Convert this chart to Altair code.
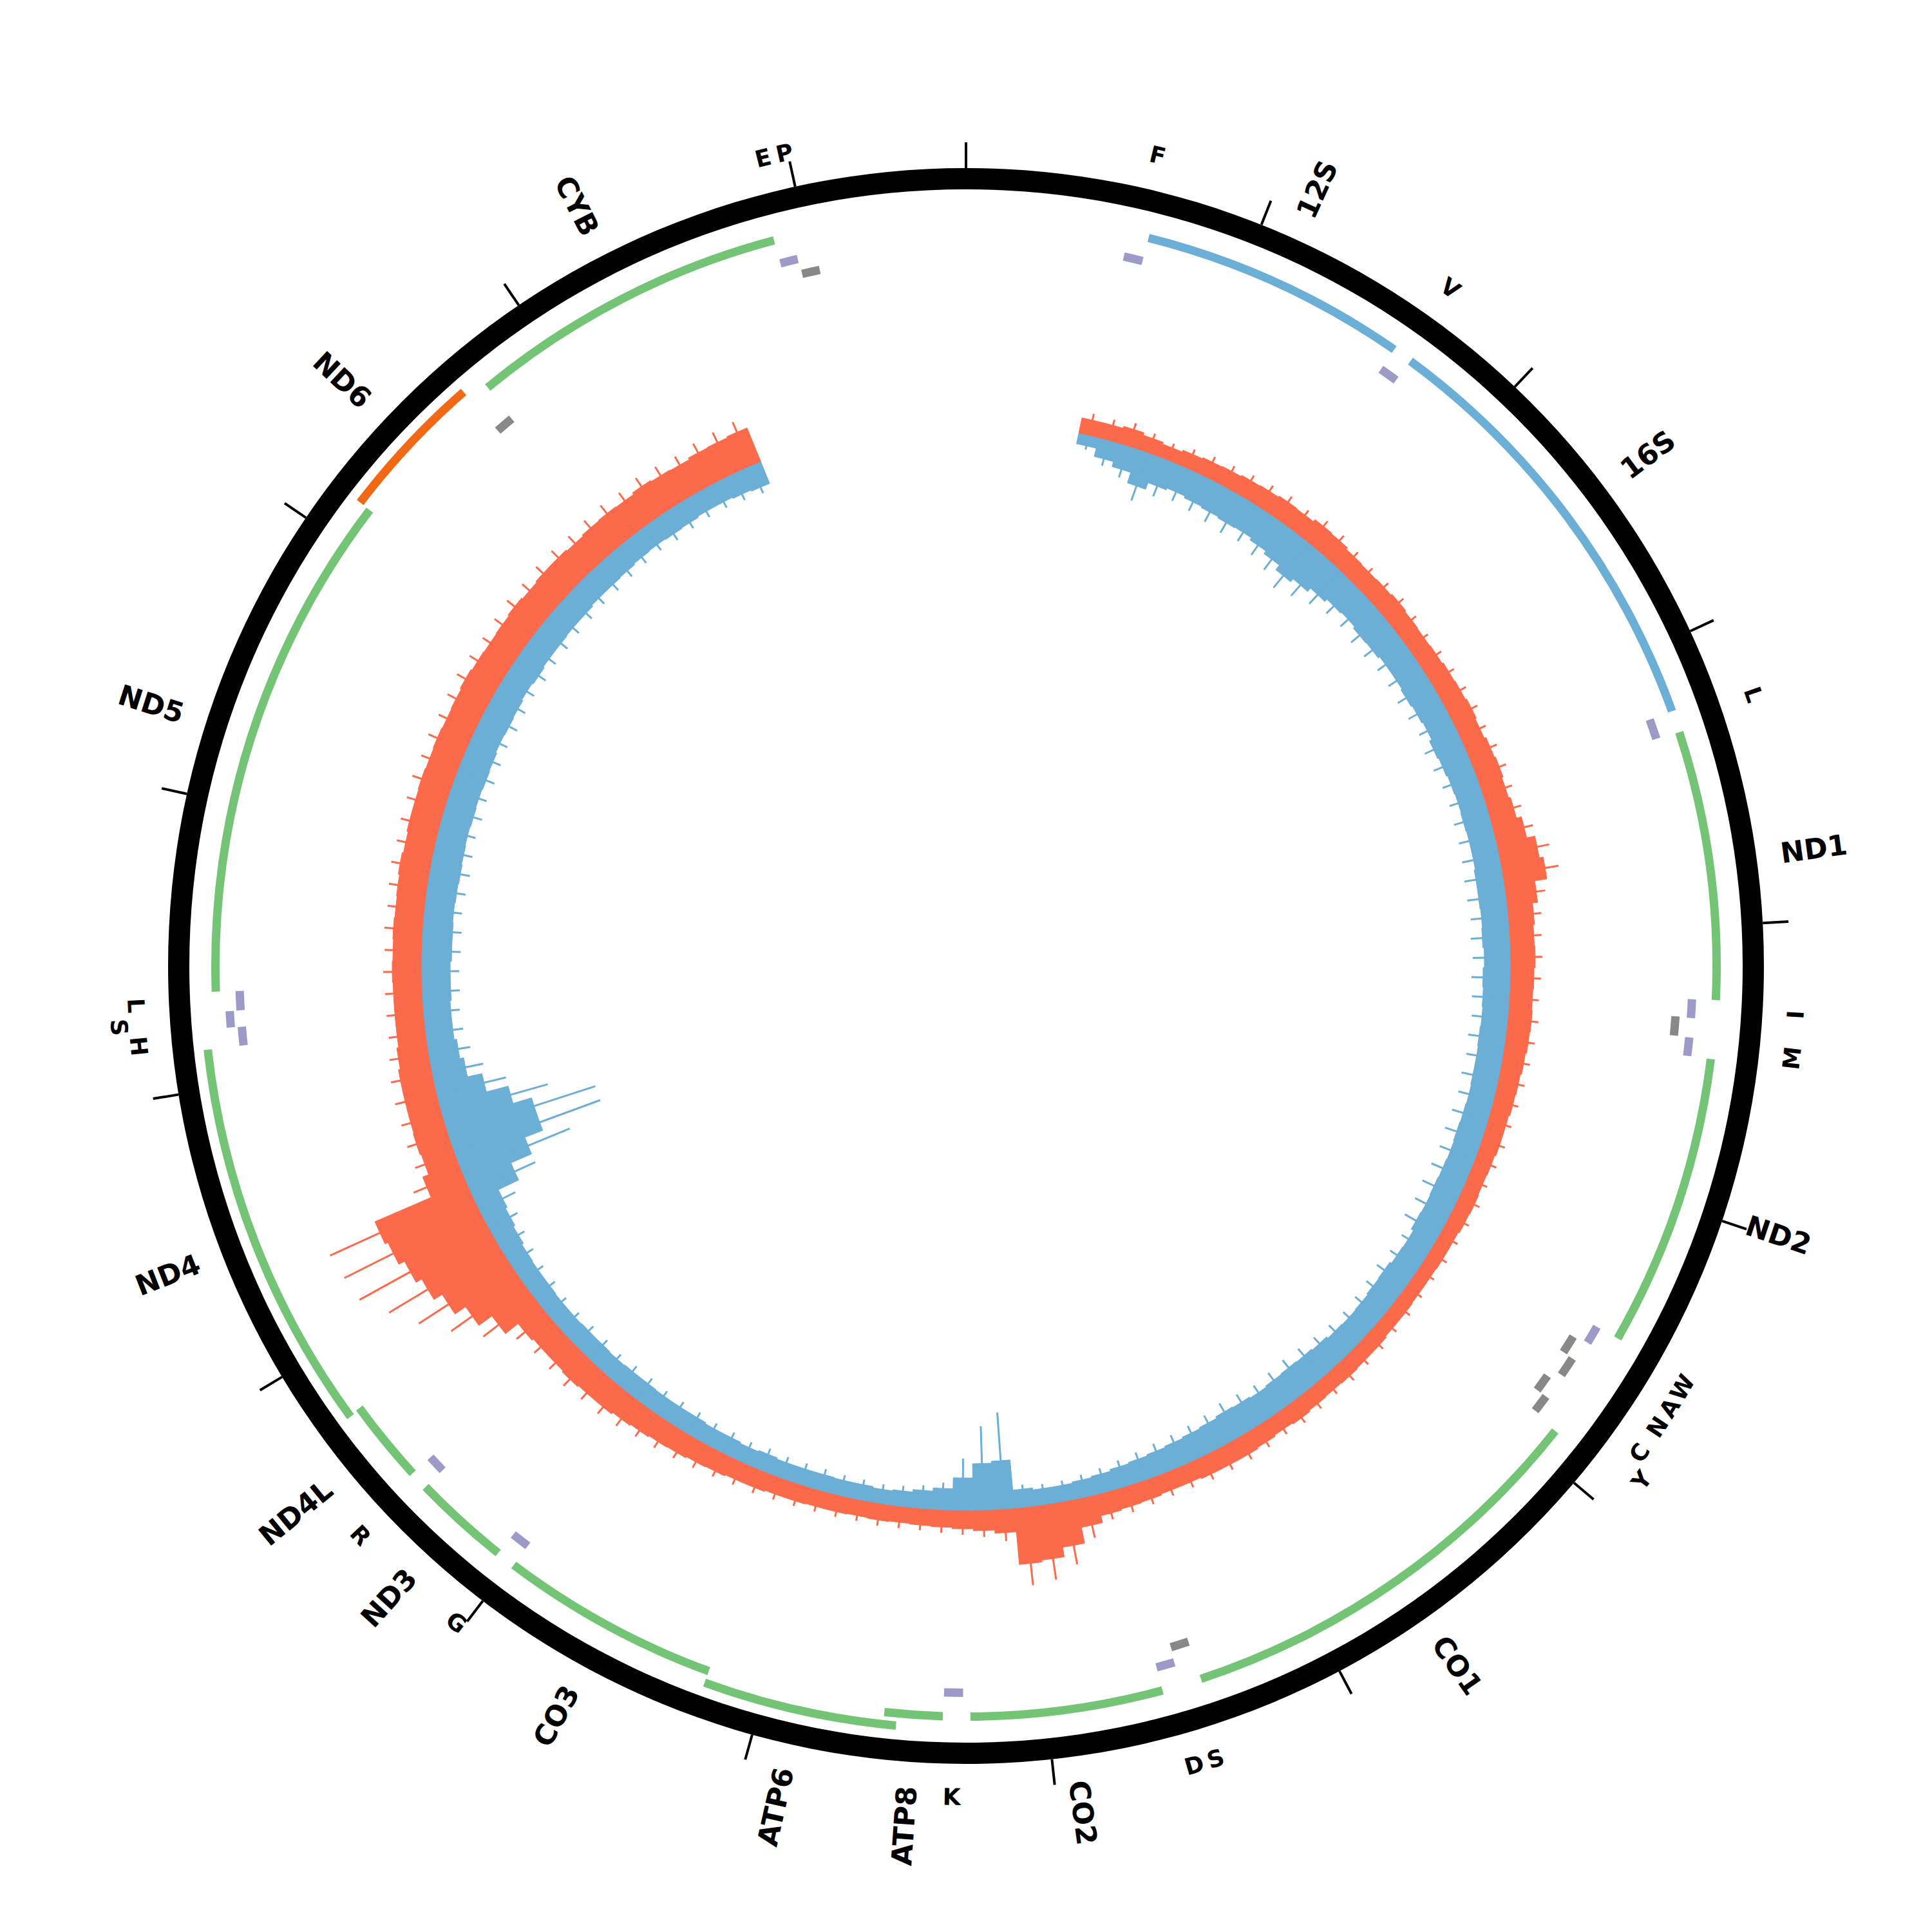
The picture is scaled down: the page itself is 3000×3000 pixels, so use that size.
import math
import altair as alt
import pandas as pd

GENOME = 16569
TICKS = [0, 1000, 2000, 3000, 4000, 5000, 6000, 7000, 8000, 9000, 10000,
         11000, 12000, 13000, 14000, 15000, 16000]

# genes: name, start, end, kind, lane
GENE_NAME = ["12S", "16S", "ND1", "ND2", "CO1", "CO2", "ATP8", "ATP6", "CO3",
             "ND3", "ND4L", "ND4", "ND5", "ND6", "CYB"]
GENE_START = [648, 1671, 3307, 4470, 5904, 7586, 8366, 8527, 9207,
              10059, 10470, 10760, 12337, 14149, 14747]
GENE_END = [1601, 3229, 4262, 5511, 7445, 8269, 8572, 9207, 9990,
            10404, 10766, 12137, 14148, 14673, 15887]
GENE_KIND = ["rRNA", "rRNA", "cds", "cds", "cds", "cds", "cds", "cds", "cds",
             "cds", "cds", "cds", "cds", "cds_L", "cds"]
GENE_LANE = [1, 1, 1, 1, 1, 1, 1, 2, 1, 1, 1, 2, 1, 2, 1]

# tRNAs: name, start, end, strand, lane
TRNA_NAME = ["F", "V", "L1", "I", "Q", "M", "W", "A", "N", "C", "Y", "S1",
             "D", "K", "G", "R", "H", "S2", "L2", "E", "T", "P"]
TRNA_START = [577, 1602, 3230, 4263, 4329, 4402, 5512, 5587, 5657, 5761, 5826,
              7446, 7518, 8295, 9991, 10405, 12138, 12207, 12266, 14674, 15888, 15956]
TRNA_END = [647, 1670, 3304, 4331, 4400, 4469, 5579, 5655, 5729, 5826, 5891,
            7514, 7585, 8364, 10058, 10469, 12206, 12265, 12336, 14742, 15953, 16023]
TRNA_STRAND = ["H", "H", "H", "H", "L", "H", "H", "L", "L", "L", "L", "L",
               "H", "H", "H", "H", "H", "H", "H", "L", "H", "L"]
TRNA_LANE = [1, 1, 1, 1, 1, 1, 1, 1, 2, 1, 2, 1, 1, 1, 1, 1, 1, 2, 1, 1, 1, 1]

# small labels shown around the ring (name, position in bp, lane)
SMALL_LABEL = ["F", "V", "L", "I", "M", "W", "A", "N", "C", "Y", "S", "D", "K",
               "G", "R", "H", "S", "L", "E", "P"]
SMALL_POS = [612, 1636, 3267, 4297, 4435, 5545, 5621, 5693, 5793, 5858, 7480,
             7551, 8330, 10025, 10437, 12172, 12236, 12301, 15920, 15990]
SMALL_LANE = [1, 1, 1, 1, 1, 1, 1, 1, 1, 2, 1, 1, 1, 1, 1, 1, 2, 1, 1, 1]

# coverage in 100 bp bins starting at 550:
# FWD / REV = visible dense level, *_PEAK = tips of the longest spikes
COV_START = 550
COV_BIN = 100
FWD = [25, 25, 28, 24, 21, 24, 26, 27, 29, 30,
       32, 31, 35, 34, 31, 30, 31, 33, 31, 30,
       31, 33, 34, 36, 34, 37, 39, 37, 40, 48,
       61, 67, 48, 40, 38, 39, 37, 36, 37, 36,
       34, 32, 31, 29, 29, 27, 26, 27, 26, 24,
       24, 23, 23, 24, 24, 26, 26, 27, 26, 27,
       29, 27, 29, 31, 31, 31, 29, 29, 31, 32,
       34, 45, 70, 85, 88, 37, 32, 29, 27, 26,
       25, 26, 25, 26, 26, 27, 27, 29, 29, 31,
       32, 34, 35, 37, 39, 42, 42, 44, 42, 42,
       45, 70, 95, 115, 130, 140, 150, 155, 60, 50,
       52, 51, 51, 51, 48, 45, 45, 45, 46, 45,
       46, 45, 46, 48, 46, 48, 48, 49, 48, 49,
       48, 49, 51, 49, 48, 49, 51, 49, 51, 51,
       49, 51, 52, 51, 54, 52, 51, 54, 55, 57]
FWD_PEAK = [35, 34, 38, 32, 28, 32, 35, 36, 38, 40,
            42, 40, 45, 44, 40, 38, 40, 42, 40, 38,
            40, 42, 44, 46, 44, 48, 50, 48, 52, 62,
            80, 88, 62, 52, 50, 50, 48, 46, 48, 46,
            44, 42, 40, 38, 38, 36, 34, 36, 34, 32,
            32, 30, 30, 32, 32, 34, 34, 36, 34, 36,
            38, 36, 38, 40, 40, 40, 38, 38, 40, 42,
            44, 65, 100, 118, 122, 50, 42, 38, 36, 34,
            34, 35, 33, 34, 34, 35, 36, 38, 38, 40,
            42, 44, 46, 48, 52, 55, 55, 58, 55, 55,
            62, 100, 135, 170, 200, 230, 235, 240, 82, 66,
            67, 66, 67, 66, 62, 58, 58, 58, 60, 58,
            60, 58, 60, 62, 60, 62, 62, 64, 62, 64,
            62, 64, 66, 64, 62, 64, 66, 64, 66, 66,
            64, 66, 68, 66, 70, 68, 66, 70, 72, 74]
REV = [16, 29, 37, 54, 43, 40, 43, 45, 47, 46,
       50, 55, 64, 58, 51, 46, 44, 47, 46, 43,
       43, 45, 43, 41, 45, 43, 41, 40, 41, 40,
       40, 42, 42, 41, 42, 40, 42, 41, 40, 41,
       40, 40, 39, 40, 41, 40, 41, 42, 41, 42,
       38, 39, 42, 41, 39, 38, 39, 42, 44, 45,
       44, 42, 44, 45, 42, 40, 38, 36, 34, 32,
       29, 27, 25, 25, 28, 75, 72, 50, 33, 28,
       24, 22, 24, 24, 25, 25, 25, 27, 25, 27,
       27, 29, 29, 29, 30, 30, 29, 30, 30, 29,
       29, 30, 30, 31, 34, 37, 40, 75, 110, 140,
       140, 110, 75, 52, 46, 42, 42, 44, 44, 46,
       46, 45, 46, 47, 46, 45, 46, 45, 46, 45,
       43, 44, 43, 41, 43, 41, 41, 40, 40, 38,
       38, 37, 35, 34, 35, 34, 32, 32, 34, 36]
REV_PEAK = [22, 40, 50, 78, 60, 55, 58, 62, 65, 62,
            68, 75, 88, 80, 70, 62, 60, 64, 62, 58,
            58, 60, 58, 55, 60, 58, 55, 54, 56, 56,
            58, 60, 60, 58, 60, 58, 60, 58, 56, 58,
            56, 58, 56, 58, 60, 58, 60, 62, 60, 62,
            50, 52, 56, 54, 52, 50, 52, 55, 58, 60,
            58, 55, 58, 60, 55, 52, 50, 48, 45, 42,
            38, 35, 32, 32, 35, 150, 130, 80, 42, 36,
            32, 30, 32, 32, 34, 34, 34, 36, 34, 36,
            36, 38, 38, 38, 40, 40, 38, 40, 40, 38,
            38, 40, 40, 42, 45, 50, 62, 110, 180, 240,
            240, 170, 110, 80, 65, 58, 56, 58, 58, 60,
            60, 58, 60, 62, 60, 58, 60, 58, 60, 58,
            56, 58, 56, 54, 56, 54, 54, 52, 52, 50,
            50, 48, 46, 44, 46, 44, 42, 42, 44, 46]

# ---------------------------------------------------------------- layout
W = 2984
R_BASE = 845
R_RING = (1206, 1239)
R_TICK = (1239, 1279)
GENE_R = {1: (1159, 1172), 2: (1178, 1191)}
TRNA_R = {("H", 1): (1122, 1135), ("H", 2): (1139, 1152),
          ("L", 1): (1098, 1111), ("L", 2): (1115, 1128)}
R_GENE_LABEL = 1277
R_SMALL_LABEL = {1: 1292, 2: 1320}
FONT = "DejaVu Sans"
RED = "#fb6a4a"
BLUE = "#6baed6"

TH = alt.Scale(domain=[0, GENOME], range=[0, 2 * math.pi])

genes = pd.DataFrame({"name": GENE_NAME, "start": GENE_START, "end": GENE_END,
                      "kind": GENE_KIND, "lane": GENE_LANE})
genes["mid"] = (genes["start"] + genes["end"]) / 2
trna = pd.DataFrame({"name": TRNA_NAME, "start": TRNA_START, "end": TRNA_END,
                     "strand": TRNA_STRAND, "lane": TRNA_LANE})
small = pd.DataFrame({"name": SMALL_LABEL, "pos": SMALL_POS, "lane": SMALL_LANE})
cov = pd.DataFrame({"f": FWD, "fp": FWD_PEAK, "r": REV, "rp": REV_PEAK})
cov["s"] = [COV_START + i * COV_BIN for i in range(len(cov))]
cov["e"] = cov["s"] + COV_BIN
cov["m"] = cov["s"] + COV_BIN / 2
ticks = pd.DataFrame({"pos": TICKS})
ring = pd.DataFrame({"s": [0], "e": [GENOME]})

layers = []

layers.append(alt.Chart(ring).mark_arc(color="black").encode(
    theta=alt.Theta("s:Q", scale=TH), theta2="e:Q",
    radius=alt.value(R_RING[0]), radius2=alt.value(R_RING[1])))

layers.append(alt.Chart(ticks).mark_arc(fill=None, stroke="black", strokeWidth=4).encode(
    theta=alt.Theta("pos:Q", scale=TH), theta2="pos:Q",
    radius=alt.value(R_TICK[0]), radius2=alt.value(R_TICK[1])))

GENE_COLOR = {"cds": "#74c476", "rRNA": "#6baed6", "cds_L": "#f16913"}
for kind, col in GENE_COLOR.items():
    for lane, (r0, r1) in GENE_R.items():
        sub = genes[(genes["kind"] == kind) & (genes["lane"] == lane)]
        if len(sub) == 0:
            continue
        layers.append(alt.Chart(sub).mark_arc(color=col).encode(
            theta=alt.Theta("start:Q", scale=TH), theta2="end:Q",
            radius=alt.value(r0), radius2=alt.value(r1)))

TRNA_COLOR = {"H": "#9e9ac8", "L": "#888888"}
for (strand, lane), (r0, r1) in TRNA_R.items():
    sub = trna[(trna["strand"] == strand) & (trna["lane"] == lane)]
    if len(sub) == 0:
        continue
    layers.append(alt.Chart(sub).mark_arc(color=TRNA_COLOR[strand]).encode(
        theta=alt.Theta("start:Q", scale=TH), theta2="end:Q",
        radius=alt.value(r0), radius2=alt.value(r1)))

# coverage: forward strand outward (red), reverse strand inward (blue)
FWD_SC = alt.Scale(type="linear", domain=[0, 250], range=[R_BASE, R_BASE + 250])
REV_SC = alt.Scale(type="linear", domain=[0, 250], range=[R_BASE, R_BASE - 250])
for col, sc, val, peak in [(RED, FWD_SC, "f", "fp"), (BLUE, REV_SC, "r", "rp")]:
    layers.append(alt.Chart(cov).mark_arc(color=col, stroke=col, strokeWidth=1).encode(
        theta=alt.Theta("s:Q", scale=TH), theta2="e:Q",
        radius=alt.Radius(val + ":Q", scale=sc), radius2=alt.value(R_BASE)))
    layers.append(alt.Chart(cov).mark_arc(fill=None, stroke=col, strokeWidth=3).encode(
        theta=alt.Theta("m:Q", scale=TH), theta2="m:Q",
        radius=alt.Radius(peak + ":Q", scale=sc), radius2=alt.value(R_BASE)))

# gene labels (radial)
glab = alt.Chart(genes).transform_calculate(
    deg="datum.mid / %d * 360" % GENOME)
layers.append(glab.transform_filter("datum.deg < 180").transform_calculate(
    ang="datum.deg - 90").mark_text(
    align="left", baseline="middle", font=FONT, fontWeight="bold", fontSize=44).encode(
    theta=alt.Theta("mid:Q", scale=TH), radius=alt.value(R_GENE_LABEL),
    angle=alt.Angle("ang:Q", scale=None), text="name:N"))
layers.append(glab.transform_filter("datum.deg >= 180").transform_calculate(
    ang="datum.deg - 270").mark_text(
    align="right", baseline="middle", font=FONT, fontWeight="bold", fontSize=44).encode(
    theta=alt.Theta("mid:Q", scale=TH), radius=alt.value(R_GENE_LABEL),
    angle=alt.Angle("ang:Q", scale=None), text="name:N"))

# small labels (tangential)
for lane, r in R_SMALL_LABEL.items():
    sub = small[small["lane"] == lane]
    layers.append(alt.Chart(sub).transform_calculate(
        deg="datum.pos / %d * 360" % GENOME).transform_calculate(
        ang="(datum.deg > 90 && datum.deg < 270) ? datum.deg - 180 : datum.deg").mark_text(
        align="center", baseline="middle", font=FONT, fontWeight="bold", fontSize=36).encode(
        theta=alt.Theta("pos:Q", scale=TH), radius=alt.value(r),
        angle=alt.Angle("ang:Q", scale=None), text="name:N"))

chart = alt.layer(*layers).resolve_scale(radius="independent").properties(
    width=W, height=W, padding=0, autosize="none").configure_view(stroke=None)

chart.save("out.html", embed_options={"renderer": "svg", "actions": False})
